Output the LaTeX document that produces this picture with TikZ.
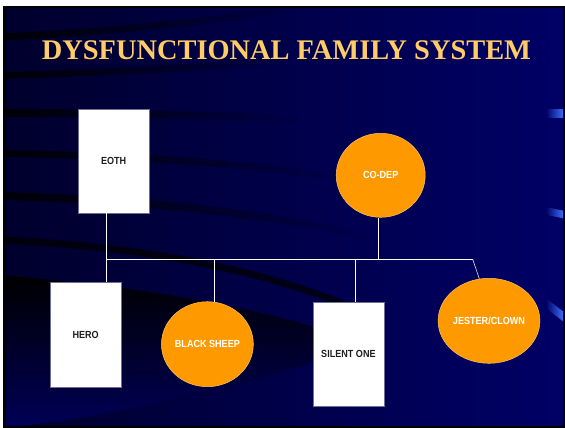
\documentclass[tikz,border=0pt]{standalone}
\usepackage{fontspec}
\setmainfont{Liberation Serif}
\newfontfamily\lblfont{Liberation Sans}[FakeStretch=0.88]
\usetikzlibrary{shapes.geometric,fadings}
\definecolor{bg}{RGB}{0,0,102}
\definecolor{bgdark}{RGB}{0,0,45}
\definecolor{titlec}{RGB}{255,204,102}
\definecolor{orangec}{RGB}{255,153,0}
\definecolor{barblue}{RGB}{60,110,255}
\definecolor{rectedge}{RGB}{110,110,150}
\definecolor{darktext}{RGB}{30,30,30}
\begin{document}
\begin{tikzpicture}[x=1pt,y=-1pt,
  streak/.style={line width=#1, draw=black, opacity=0.8, path fading=east},
  streak/.default=7,
  rolebox/.style={rectangle, fill=white, draw=rectedge, line width=0.4pt,
    minimum width=71pt, minimum height=104pt, inner sep=0pt,
    text=darktext, font=\lblfont\bfseries\fontsize{10.3}{12}\selectfont},
  rolecirc/.style={ellipse, fill=orangec, draw=orangec!60!white, line width=0.5pt,
    minimum width=89pt, minimum height=85pt, inner sep=0pt,
    text=white, font=\lblfont\bfseries\fontsize{10.3}{12}\selectfont},
  link/.style={draw=white, line width=1pt},
  thinlink/.style={draw=white!75!gray, line width=0.6pt},
  bar/.style={left color=bg, right color=barblue}
]
\useasboundingbox (0,0) rectangle (565,428);
% page and slide frame
\fill[white] (0,0) rectangle (565,428);
\fill[black] (3,6) rectangle (565,428);
\begin{scope}
  \clip (6,9) rectangle (563,425);
  \fill[left color=bgdark, middle color=bg, right color=bg] (6,9) rectangle (563,425);
  % dark streaks
  \draw[streak=7] (0,37) .. controls (100,33) and (200,22) .. (295,9);
  \draw[streak=7] (0,75.5) .. controls (100,73) and (190,68) .. (285,61);
  \draw[streak=8] (0,113) .. controls (100,113) and (200,115) .. (300,119);
  \draw[streak=7] (0,153.5) .. controls (120,155) and (250,163) .. (350,180);
  \draw[streak=8] (0,196) .. controls (150,200) and (280,215) .. (380,240);
  \draw[line width=7pt, draw=black, opacity=0.7] (0,240) .. controls (120,245) and (250,265) .. (345,305);
  \fill[top color=black, bottom color=bg, opacity=0.85]
    (0,275) .. controls (150,288) and (280,310) .. (365,345)
    .. controls (250,385) and (100,420) .. (0,428) -- cycle;
  % blue bars on the right edge
  \fill[bar] (546,109) -- (563.5,109) -- (563.5,117) -- (546,117) -- cycle;
  \fill[bar] (546,207) -- (563.5,210.7) -- (563.5,218.3) -- (546,215) -- cycle;
  \fill[bar] (546,298.3) -- (563.5,311.7) -- (563.5,321.7) -- (546,308.3) -- cycle;
\end{scope}

% title
\node[anchor=base, text=titlec, font=\bfseries\fontsize{28.4}{30}\selectfont, inner sep=0pt]
  (title) at (286.5,59.3) {DYSFUNCTIONAL FAMILY SYSTEM};

% nodes
\node[rolebox, minimum width=70.7pt] (eoth) at (113.7,161) {EOTH};
\node[rolecirc, minimum height=84pt] (codep) at (380.7,175.3) {CO-DEP};
\node[rolebox, minimum height=104.3pt] (hero) at (85.6,334.8) {HERO};
\node[rolecirc] (bsheep) at (207.4,344.2) {BLACK SHEEP};
\node[rolebox] (silent) at (348.4,353.7) {SILENT ONE};
\node[rolecirc] (jester) at (489,320.8) {JESTER/CLOWN};

% junction points on the bus line
\coordinate (jL) at (106.3,259.3);
\coordinate (jC) at (378.3,259.3);
\coordinate (jB) at (214.3,259.3);
\coordinate (jS) at (355.3,259.3);
\coordinate (jR) at (472.7,259.3);

% connectors
\draw[link] (eoth.south -| jL) -- (jL);
\draw[link] (codep.south -| jC) -- (jC);
\draw[link] (jL) -- (jR);
\draw[link] (jL) -- (hero.north -| jL);
\draw[link] (jB) -- ([yshift=-0.5pt]jB |- bsheep.north);
\draw[link] (jS) -- (silent.north -| jS);
\draw[thinlink] (jR) -- (jester.103);
\end{tikzpicture}
\end{document}
